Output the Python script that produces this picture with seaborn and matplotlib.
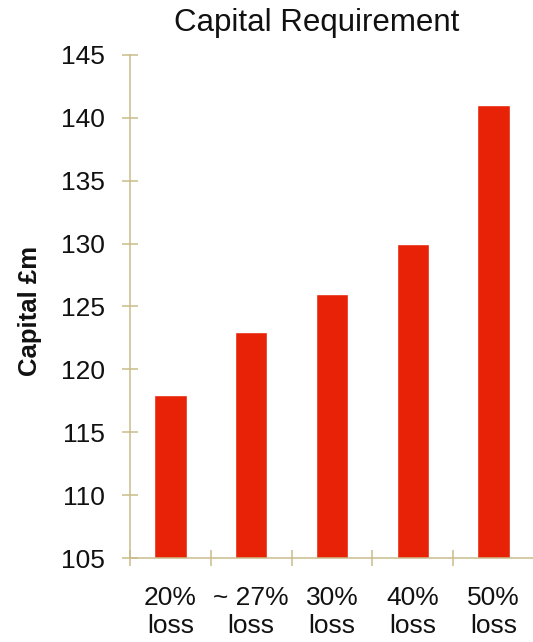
import matplotlib
matplotlib.use("Agg")
import matplotlib.pyplot as plt
import seaborn as sns
import pandas as pd
import numpy as np

# Capital requirement per loss scenario (£m)
categories = ["20%\nloss", "~ 27%\nloss", "30%\nloss", "40%\nloss", "50%\nloss"]
capital = [118, 123, 126, 130, 141]
y_ticks = [105, 110, 115, 120, 125, 130, 135, 140, 145]

BAR_COLOR = "#E82206"
AXIS_COLOR = "#C9BC8A"

sns.set_theme(style="white")
plt.rcParams["font.family"] = ["Liberation Sans", "DejaVu Sans"]

fig = plt.figure(figsize=(5.33, 6.42), dpi=100)
ax = fig.add_axes([130 / 533, 84 / 642, 404 / 533, 503 / 642])

df = pd.DataFrame({"scenario": categories, "capital": capital})
sns.barplot(data=df, x="scenario", y="capital", color=BAR_COLOR,
            saturation=1, width=0.4, ax=ax)

ax.set_ylim(105, 145)
ax.set_xlim(-0.5, len(categories) - 0.5)
ax.set_yticks(y_ticks)
ax.set_yticklabels([str(v) for v in y_ticks])
ax.set_xlabel("")
ax.set_ylabel("")

for side in ("top", "right"):
    ax.spines[side].set_visible(False)
for side in ("left", "bottom"):
    ax.spines[side].set_color(AXIS_COLOR)
    ax.spines[side].set_linewidth(1.1)

# Category labels at bar centres, tick marks on the boundaries between them
ax.set_xticks(np.arange(-0.5, len(categories), 1.0), minor=True)
ax.tick_params(axis="x", which="major", length=0, pad=20, labelsize=19,
               labelcolor="#111111")
ax.tick_params(axis="x", which="minor", direction="inout", length=12,
               width=1.1, color=AXIS_COLOR, bottom=True)
ax.tick_params(axis="y", direction="inout", length=12, width=1.1,
               color=AXIS_COLOR, pad=12, labelsize=19, labelcolor="#111111",
               left=True)
for lbl in ax.get_xticklabels():
    lbl.set_linespacing(1.22)

fig.text(317 / 533, 1 - 8 / 642, "Capital Requirement", ha="center",
         va="top", fontsize=22.5, color="#111111")
fig.text(30 / 533, (642 - 311) / 642, "Capital £m", rotation=90,
         ha="center", va="center", fontsize=18.5, fontweight="bold",
         color="#111111")

fig.savefig("out.png", dpi=100, facecolor="white")
